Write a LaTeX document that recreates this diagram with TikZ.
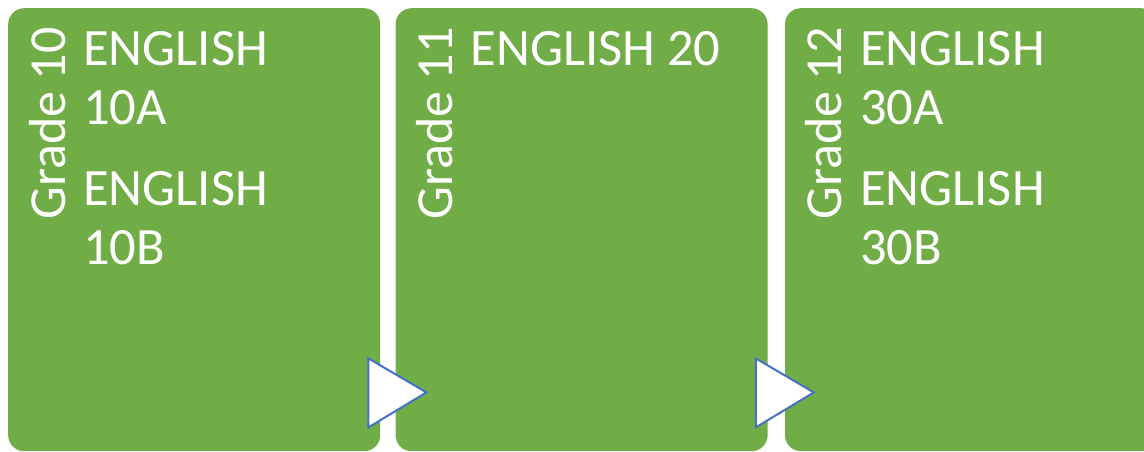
\documentclass[tikz,border=0pt]{standalone}
\usepackage{fontspec}
\setmainfont{Carlito}
\usepackage{tikz}
\usetikzlibrary{positioning}

\definecolor{gradegreen}{HTML}{70AD47}
\definecolor{arrowblue}{HTML}{4472C4}

\begin{document}
\begin{tikzpicture}[
  x=1pt, y=-1pt,
  panel/.style={
    rectangle, fill=gradegreen, rounded corners=16pt,
    minimum width=372pt, minimum height=443pt,
    anchor=north west, inner sep=0pt
  },
  grade/.style={font=\fontsize{52}{59}\selectfont, text=white,
    rotate=90, anchor=base west, inner sep=0pt},
  course/.style={font=\fontsize{52.5}{59}\selectfont, text=white,
    align=left, anchor=base west, inner sep=0pt},
  chevron/.style={fill=white, draw=arrowblue, line width=2pt, line join=miter}
]
\useasboundingbox (0,0) rectangle (1144,451);
\clip (0,0) rectangle (1144,451);

\node[panel] (g10) at (8,8) {};
\node[panel, right=15pt of g10] (g11) {};
\node[panel, right=17pt of g11] (g12) {};

\node[grade] (lbl10) at ([xshift=57pt, yshift=-212pt]g10.north west) {Grade 10};
\node[grade] (lbl11) at ([xshift=57pt, yshift=-212pt]g11.north west) {Grade 11};
\node[grade] (lbl12) at ([xshift=57pt, yshift=-212pt]g12.north west) {Grade 12};

% base of a multi-line node is its last line
\node[course] (eng10) at ([xshift=75pt, yshift=-256pt]g10.north west) {ENGLISH\\10A\\[22pt]ENGLISH\\10B};
\node[course] (eng11) at ([xshift=75pt, yshift=-57pt]g11.north west) {ENGLISH 20};
\node[course] (eng12) at ([xshift=75pt, yshift=-256pt]g12.north west) {ENGLISH\\30A\\[22pt]ENGLISH\\30B};

% arrows between the grades
\draw[chevron] ([xshift=-12pt, yshift=93pt]g10.south east) -- ([xshift=46pt, yshift=59pt]g10.south east)
  -- ([xshift=-12pt, yshift=24pt]g10.south east) -- cycle;
\draw[chevron] ([xshift=-12pt, yshift=93pt]g11.south east) -- ([xshift=46pt, yshift=59pt]g11.south east)
  -- ([xshift=-12pt, yshift=24pt]g11.south east) -- cycle;
\end{tikzpicture}
\end{document}
